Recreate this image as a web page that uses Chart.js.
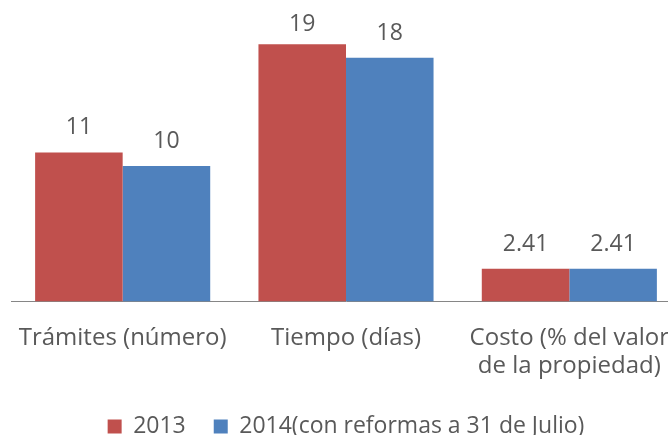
<!DOCTYPE html>
<html>
<head>
<meta charset="utf-8">
<script src="https://cdn.jsdelivr.net/npm/chart.js@4/dist/chart.umd.min.js"></script>
<style>
  html, body { margin: 0; padding: 0; background: #fff; overflow: hidden; width: 668px; height: 435px; }
  #wrap { width: 684px; height: 435px; }
</style>
</head>
<body>
<div id="wrap"><canvas id="grafico" width="684" height="435"></canvas></div>
<script>
// Categorías y valores
const categorias = [["Trámites (número)"], ["Tiempo (días)"], ["Costo (% del valor", "de la propiedad)"]];
const valores2013 = [11, 19, 2.41];
const valores2014 = [10, 18, 2.41];
const series = ["2013", "2014(con reformas a 31 de Julio)"];

const fuente = "'Open Sans', sans-serif";
const gris = '#595959';

// Etiquetas de valor encima de cada barra
const etiquetasValor = {
    id: 'etiquetasValor',
    afterDatasetsDraw(chart) {
        const ctx = chart.ctx;
        ctx.save();
        ctx.font = "23px " + fuente;
        ctx.fillStyle = gris;
        ctx.textAlign = 'center';
        ctx.textBaseline = 'alphabetic';
        chart.data.datasets.forEach((ds, i) => {
            chart.getDatasetMeta(i).data.forEach((bar, j) => {
                // como en Excel, la etiqueta no sube más allá del borde
                ctx.fillText(ds.data[j], bar.x, Math.max(bar.y - 18, 31));
            });
        });
        ctx.restore();
    }
};

const config = {
    type: 'bar',
    data: {
        labels: categorias,
        datasets: [{
            label: series[0],
            data: valores2013,
            backgroundColor: '#C0504D'
        }, {
            label: series[1],
            data: valores2014,
            backgroundColor: '#4F81BD'
        }]
    },
    options: {
        responsive: false,
        animation: false,
        categoryPercentage: 0.784,
        barPercentage: 1,
        layout: { padding: { left: 11, right: 3, top: 30.6, bottom: -13 } },
        scales: {
            x: {
                grid: { display: false, drawTicks: false },
                border: { color: '#868686', width: 1 },
                ticks: { color: gris, font: { family: fuente, size: 24, lineHeight: 1.2 }, padding: 22, maxRotation: 0, autoSkip: false },
                afterFit(scale) {
                    scale.height -= 16;
                    scale.paddingLeft = 0;
                    scale.paddingRight = 0;
                }
            },
            y: { display: false, min: 0, max: 20 }
        },
        plugins: {
            tooltip: { enabled: false },
            legend: {
                position: 'bottom',
                labels: { color: gris, boxWidth: 14, boxHeight: 14, padding: 28, font: { family: fuente, size: 23 } }
            }
        }
    },
    plugins: [etiquetasValor]
};

window.onload = function() {
    new Chart(document.getElementById('grafico').getContext('2d'), config);
};
</script>
</body>
</html>
